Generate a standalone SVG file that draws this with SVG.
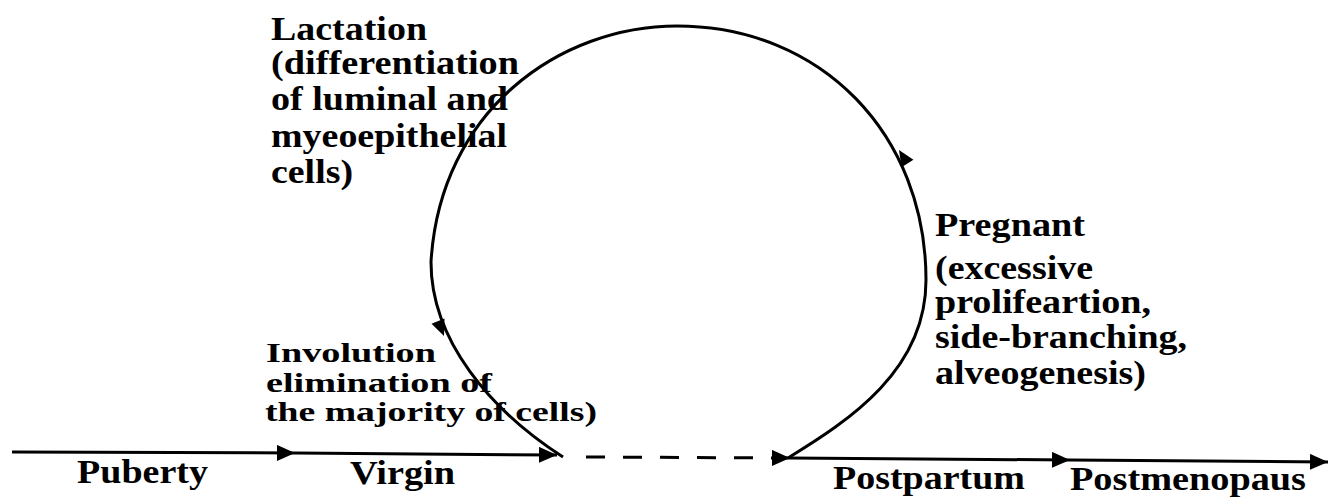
<svg xmlns="http://www.w3.org/2000/svg" width="1330" height="497" viewBox="0 0 1330 497">
<style>
text{font-family:"Liberation Serif","Times New Roman",serif;font-weight:bold;fill:#000;font-size:33px}
.sm{font-size:28px}
.ln{stroke:#000;stroke-width:3;fill:none}
.dash{stroke-dasharray:19 18}
</style>
<defs>
<marker id="arr" markerUnits="userSpaceOnUse" markerWidth="22" markerHeight="20" refX="18" refY="8" orient="auto" viewBox="0 0 22 20">
<path d="M0,0 L18,8 L0,16 Z" fill="#000"/>
</marker>
<path id="ah" d="M0,0 L-16,-7 L-16,7 Z" fill="#000"/>
</defs>
<rect width="1330" height="497" fill="#fff"/>
<g id="lactation">
<text x="271" y="40" textLength="156" lengthAdjust="spacingAndGlyphs">Lactation</text>
<text x="271" y="74" textLength="248" lengthAdjust="spacingAndGlyphs">(differentiation</text>
<text x="271" y="110" textLength="237" lengthAdjust="spacingAndGlyphs">of luminal and</text>
<text x="271" y="147" textLength="236" lengthAdjust="spacingAndGlyphs">myeoepithelial</text>
<text x="271" y="183" textLength="82" lengthAdjust="spacingAndGlyphs">cells)</text>
</g>
<g id="pregnant">
<text x="935" y="236" textLength="150" lengthAdjust="spacingAndGlyphs">Pregnant</text>
<text x="935" y="279" textLength="158" lengthAdjust="spacingAndGlyphs">(excessive</text>
<text x="935" y="313" textLength="216" lengthAdjust="spacingAndGlyphs">prolifeartion,</text>
<text x="935" y="348" textLength="252" lengthAdjust="spacingAndGlyphs">side-branching,</text>
<text x="935" y="384" textLength="211" lengthAdjust="spacingAndGlyphs">alveogenesis)</text>
</g>
<g id="involution">
<text class="sm" x="266" y="362" textLength="170" lengthAdjust="spacingAndGlyphs">Involution</text>
<text class="sm" x="266" y="392" textLength="226" lengthAdjust="spacingAndGlyphs">elimination of</text>
<text class="sm" x="265" y="421" textLength="332" lengthAdjust="spacingAndGlyphs">the majority of cells)</text>
</g>
<g id="puberty"><text x="77" y="483" textLength="131" lengthAdjust="spacingAndGlyphs">Puberty</text></g>
<g id="virgin"><text x="350" y="484" textLength="105" lengthAdjust="spacingAndGlyphs">Virgin</text></g>
<g id="postpartum"><text x="833" y="489" textLength="192" lengthAdjust="spacingAndGlyphs">Postpartum</text></g>
<g id="postmenopaus"><text x="1070" y="490" textLength="236" lengthAdjust="spacingAndGlyphs">Postmenopaus</text></g>
<g id="connectors">
<line class="ln" x1="12" y1="452" x2="295" y2="453" marker-end="url(#arr)"/>
<line class="ln" x1="295" y1="453" x2="557" y2="455" marker-end="url(#arr)"/>
<line class="ln dash" x1="586" y1="457" x2="790" y2="458" marker-end="url(#arr)"/>
<line class="ln" x1="790" y1="458" x2="1070" y2="460" marker-end="url(#arr)"/>
<line class="ln" x1="1070" y1="460" x2="1328" y2="462" marker-end="url(#arr)"/>
<path class="ln" d="M788 458 C850 420 926 370 926 280 C926 135 822 26 677 26 C560 26 440 110 431 262 C431 340 490 410 563 457"/>
<use href="#ah" transform="translate(899,150) rotate(-122)"/>
<use href="#ah" transform="translate(444,336) rotate(68)"/>
</g>
</svg>
